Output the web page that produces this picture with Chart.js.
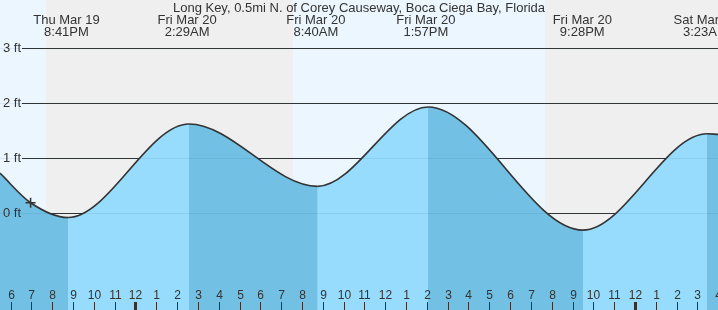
<!DOCTYPE html>
<html>
<head>
<meta charset="utf-8">
<script src="https://cdn.jsdelivr.net/npm/chart.js@4/dist/chart.umd.min.js"></script>
<style>
  body { margin: 0; background: #fff; }
  canvas { display: block; }
</style>
</head>
<body>
<canvas id="tideChart" width="718" height="310"></canvas>
<script>
// times are hours from Fri Mar 20 00:00
const stationName = 'Long Key, 0.5mi N. of Corey Causeway, Boca Ciega Bay, Florida';

const curveHours   = [-6.51, -5.04, -3.24, 2.57, 8.75, 14.06, 21.5, 27.46, 27.99];
const curveHeights = [0.72, 0.18, -0.09, 1.62, 0.48, 1.93, -0.32, 1.44, 1.43];

const eventHours = [-3.317, 2.483, 8.667, 13.95, 21.467, 27.383];
const eventDays  = ['Thu Mar 19', 'Fri Mar 20', 'Fri Mar 20', 'Fri Mar 20', 'Fri Mar 20', 'Sat Mar 21'];
const eventTimes = ['8:41PM', '2:29AM', '8:40AM', '1:57PM', '9:28PM', '3:23AM'];

const nowHour = -5.04;
const nowHeight = 0.18;

// night bands: [start, end]
const nightStarts = [-4.3, 19.7];
const nightEnds   = [7.58, 28];

const footTicks  = [3, 2, 1, 0];
const footLabels = ['3 ft', '2 ft', '1 ft', '0 ft'];

const hourTicks  = [-6, -5, -4, -3, -2, -1, 0, 1, 2, 3, 4, 5, 6, 7, 8, 9, 10, 11,
                    12, 13, 14, 15, 16, 17, 18, 19, 20, 21, 22, 23, 24, 25, 26, 27, 28];
const hourLabels = ['6', '7', '8', '9', '10', '11', '12', '1', '2', '3', '4', '5', '6', '7', '8', '9', '10', '11',
                    '12', '1', '2', '3', '4', '5', '6', '7', '8', '9', '10', '11', '12', '1', '2', '3', '4'];

const FONT = '"Liberation Sans", Arial, sans-serif';
const TEXT = '#333';
const RISING = '#97dcfc';
const FALLING = '#72c0e4';

const tidePlugin = {
    id: 'tidePlugin',
    beforeDraw(chart) {
        const ctx = chart.ctx;
        const x = chart.scales.x;
        const y = chart.scales.y;
        const area = chart.chartArea;
        ctx.save();
        ctx.fillStyle = '#ebf6ff';
        ctx.fillRect(area.left, area.top, area.right - area.left, area.bottom - area.top);
        ctx.fillStyle = '#efefef';
        for (let i = 0; i < nightStarts.length; i++) {
            const x0 = Math.round(x.getPixelForValue(nightStarts[i]));
            const x1 = Math.round(x.getPixelForValue(nightEnds[i]));
            ctx.fillRect(x0, area.top, x1 - x0, area.bottom - area.top);
        }
        // foot grid lines
        ctx.strokeStyle = '#333';
        ctx.lineWidth = 1;
        footTicks.forEach(v => {
            const py = Math.round(y.getPixelForValue(v)) + 0.5;
            ctx.beginPath();
            ctx.moveTo(22, py);
            ctx.lineTo(area.right, py);
            ctx.stroke();
        });
        ctx.restore();
    },
    afterDatasetsDraw(chart) {
        const ctx = chart.ctx;
        const x = chart.scales.x;
        const y = chart.scales.y;
        const area = chart.chartArea;
        ctx.save();
        // grid lines faintly showing through the water
        ctx.strokeStyle = 'rgba(0, 60, 100, 0.08)';
        ctx.lineWidth = 1;
        ctx.font = '13px ' + FONT;
        ctx.textBaseline = 'middle';
        ctx.textAlign = 'left';
        ctx.fillStyle = TEXT;
        footTicks.forEach((v, i) => {
            const py = Math.round(y.getPixelForValue(v)) + 0.5;
            ctx.beginPath();
            ctx.moveTo(area.left, py);
            ctx.lineTo(area.right, py);
            ctx.stroke();
            ctx.fillText(footLabels[i], 3, py);
        });
        ctx.font = '12px ' + FONT;
        ctx.textAlign = 'center';
        hourTicks.forEach((h, i) => {
            const px = Math.round(x.getPixelForValue(h));
            ctx.fillText(hourLabels[i], px + 0.5, 296);
            const w = (h % 24 === 0) ? 3 : 1;
            ctx.fillRect(px - Math.floor(w / 2), 302, w, area.bottom - 302);
        });
        // title and high/low labels
        ctx.font = '13px ' + FONT;
        ctx.fillText(stationName, 359, 8);
        eventHours.forEach((h, i) => {
            const px = x.getPixelForValue(h);
            ctx.fillText(eventDays[i], px, 20);
            ctx.fillText(eventTimes[i], px, 32);
        });
        ctx.restore();
    }
};

const tidePoints = curveHours.map((h, i) => ({ x: h, y: curveHeights[i] }));

const ctx = document.getElementById('tideChart').getContext('2d');
new Chart(ctx, {
    type: 'line',
    data: {
        datasets: [{
            // whole water body in the rising colour
            data: tidePoints,
            borderWidth: 0,
            borderColor: 'rgba(0,0,0,0)',
            pointRadius: 0,
            cubicInterpolationMode: 'monotone',
            fill: 'start',
            backgroundColor: RISING,
            order: 3
        }, {
            // falling tide stretches on top, plus the curve itself
            data: tidePoints,
            borderColor: '#333',
            borderWidth: 1.6,
            pointRadius: 0,
            cubicInterpolationMode: 'monotone',
            fill: 'start',
            backgroundColor: 'rgba(0,0,0,0)',
            segment: {
                backgroundColor: c => c.p1.parsed.y < c.p0.parsed.y ? FALLING : 'rgba(0,0,0,0)'
            },
            order: 2
        }, {
            type: 'scatter',
            data: [{ x: nowHour, y: nowHeight }],
            pointStyle: 'cross',
            pointRadius: 5,
            borderColor: '#333',
            borderWidth: 1.5,
            order: 1
        }]
    },
    options: {
        responsive: false,
        devicePixelRatio: 1,
        animation: false,
        layout: { padding: 0, autoPadding: false },
        plugins: {
            legend: { display: false },
            tooltip: { enabled: false },
            title: { display: false }
        },
        scales: {
            x: { type: 'linear', min: -6.51, max: 27.99, display: false },
            y: { min: -1.78, max: 3.885, display: false }
        }
    },
    plugins: [tidePlugin]
});
</script>
</body>
</html>
